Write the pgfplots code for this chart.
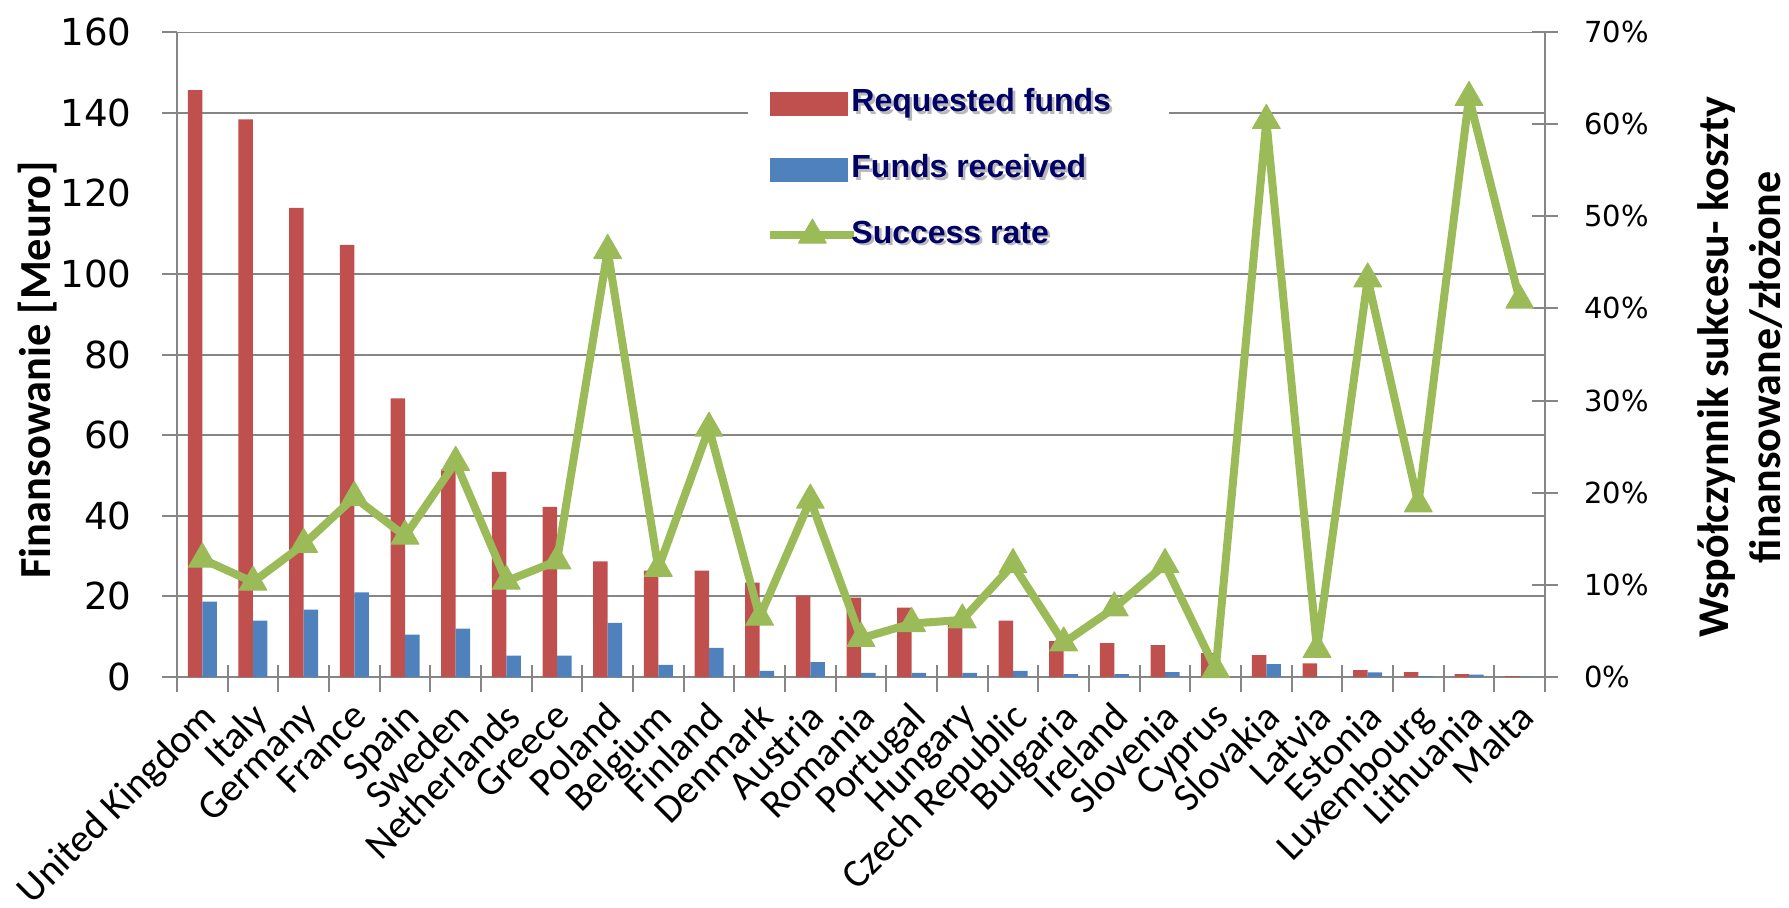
\documentclass[border=0pt]{standalone}
\usepackage{fontspec}
\setmainfont{Carlito}
\newfontfamily\dejavu{DejaVu Sans}
\newfontfamily\legfont{Liberation Sans}
\usepackage{pgfplots}
\usepackage{pgfplotstable}
\pgfplotsset{compat=1.18}
\definecolor{cred}{RGB}{192,80,77}
\definecolor{cblue}{RGB}{79,129,189}
\definecolor{cgreen}{RGB}{155,187,89}
\definecolor{cgrid}{RGB}{134,134,134}
\definecolor{cnavy}{RGB}{0,0,102}
\newcommand{\shd}[1]{\hspace*{-4.5pt}\rlap{\kern1.3pt\raisebox{-1.3pt}{\textcolor{black!28}{#1}}}#1}
\pgfplotsset{
  myline legend/.style={legend image code/.code={\draw[##1, mark repeat=2, mark phase=2] plot coordinates {(0pt,0pt) (21pt,0pt) (42pt,0pt)};}},
  redbox legend/.style={legend image code/.code={\fill[cred] (0pt,-5.75pt) rectangle (38.5pt,5.75pt);}},
  bluebox legend/.style={legend image code/.code={\fill[cblue] (0pt,-5.75pt) rectangle (38.5pt,5.75pt);}},
}

\pgfplotstableread{
idx req rec rate
0 145.6 18.7 12.8
1 138.3 14.0 10.3
2 116.4 16.7 14.4
3 107.2 21.0 19.5
4 69.1 10.5 15.3
5 51.5 12.0 23.3
6 50.9 5.3 10.4
7 42.2 5.3 12.6
8 28.7 13.4 46.3
9 26.4 3.0 11.8
10 26.4 7.2 27.0
11 23.4 1.5 6.5
12 20.2 3.7 19.2
13 19.7 1.0 4.2
14 17.2 1.0 5.8
15 13.8 1.0 6.2
16 14.0 1.5 12.2
17 8.9 0.7 3.7
18 8.4 0.7 7.5
19 7.9 1.2 12.2
20 5.9 0.1 0.8
21 5.4 3.2 60.4
22 3.4 0.1 3.0
23 1.7 1.15 43.2
24 1.2 0.2 18.8
25 0.7 0.6 62.9
26 0.2 0.08 40.9
}\data

\begin{document}
\begin{tikzpicture}
\path[use as bounding box] (-88.5pt,-115pt) rectangle (806pt,338.5pt);
\begin{axis}[
  at={(0,0)}, anchor=south west,
  scale only axis, width=684pt, height=322.5pt,
  xmin=-0.5, xmax=26.5, ymin=0, ymax=160,
  ybar=0pt, bar width=7.25pt,
  /pgf/number format/assume math mode=true,
  axis x line*=bottom, axis y line*=left,
  axis line style={-, cgrid, line width=1pt},
  xtick={-0.5,0.5,...,26.5},
  xticklabel=\empty,
  xtick style={cgrid, line width=1pt, yshift=6pt, /pgfplots/major tick length=13.5pt},
  extra x ticks={0,...,26},
  extra x tick labels={United Kingdom,Italy,Germany,France,Spain,Sweden,Netherlands,Greece,Poland,Belgium,Finland,Denmark,Austria,Romania,Portugal,Hungary,Czech Republic,Bulgaria,Ireland,Slovenia,Cyprus,Slovakia,Latvia,Estonia,Luxembourg,Lithuania,Malta},
  extra x tick style={grid=none, xtick style={draw=none}},
  ytick={0,20,40,60,80,100,140,160},
  extra y ticks={120},
  extra y tick style={grid=none, ytick style={draw=none}},
  tick align=outside, major tick length=7.5pt,
  ytick style={cgrid, line width=1pt},
  yticklabel style={font=\dejavu\fontsize{18.6}{18.6}\selectfont, anchor=east, inner sep=0pt, xshift=-15pt},
  xticklabel style={rotate=45, anchor=north east, inner sep=0pt, font=\fontsize{20}{20}\selectfont, xshift=-4pt, yshift=-1.5pt},
  ylabel={Finansowanie [Meuro]},
  ylabel style={font=\bfseries\fontsize{22.2}{22.2}\selectfont, at={(axis description cs:-0.102,0.476)}, anchor=center},
]
\draw[cgrid, line width=1pt] (axis cs:-0.5,20) -- (axis cs:26.5,20);
\draw[cgrid, line width=1pt] (axis cs:-0.5,40) -- (axis cs:26.5,40);
\draw[cgrid, line width=1pt] (axis cs:-0.5,60) -- (axis cs:26.5,60);
\draw[cgrid, line width=1pt] (axis cs:-0.5,80) -- (axis cs:26.5,80);
\draw[cgrid, line width=1pt] (axis cs:-0.5,100) -- (axis cs:26.5,100);
\draw[cgrid, line width=1pt] (axis cs:-0.5,140) -- (axis cs:26.5,140);
\draw[cgrid, line width=1pt] (axis cs:-0.5,160) -- (axis cs:26.5,160);
\addplot[fill=cred, draw=none] table[x=idx,y=req]{\data};
\addplot[fill=cblue, draw=none] table[x=idx,y=rec]{\data};
\end{axis}
\begin{axis}[
  at={(0,0)}, anchor=south west,
  scale only axis, width=684pt, height=322.5pt,
  xmin=-0.5, xmax=26.5, ymin=0, ymax=70,
  /pgf/number format/assume math mode=true,
  axis x line=none, axis y line*=right,
  axis line style={-, cgrid, line width=1pt},
  ytick={0,10,...,70},
  yticklabel={\pgfmathprintnumber{\tick}\%},
  tick align=center, major tick length=13pt,
  ytick style={cgrid, line width=1pt},
  yticklabel style={font=\dejavu\fontsize{14.5}{14.5}\selectfont, anchor=west, inner sep=0pt, xshift=13pt},
  ylabel={Współczynnik sukcesu- koszty\\finansowane/złożone},
  ylabel style={font=\bfseries\fontsize{22}{26}\selectfont, align=center, at={(axis description cs:1.1425,0.48)}, anchor=center},
  legend cell align=left,
  legend style={at={(0.4174,0.942)}, anchor=north west, draw=none, fill=white,
    font=\legfont\bfseries\fontsize{16}{16}\selectfont, text=cnavy,
    row sep=14.8pt, inner xsep=9pt, inner ysep=8pt,
    nodes={inner sep=1pt, text height=12pt, text depth=4pt}},
]
\addlegendimage{redbox legend}
\addlegendentry{\shd{Requested funds}\rule{19pt}{0pt}}
\addlegendimage{bluebox legend}
\addlegendentry{\shd{Funds received}}
\addplot[cgreen, line width=4pt, line join=round, mark=triangle*, mark size=8pt,
  mark options={solid, line width=0.5pt}, myline legend]
  table[x=idx,y=rate]{\data};
\addlegendentry{\shd{Success rate}}
\end{axis}
\end{tikzpicture}
\end{document}
